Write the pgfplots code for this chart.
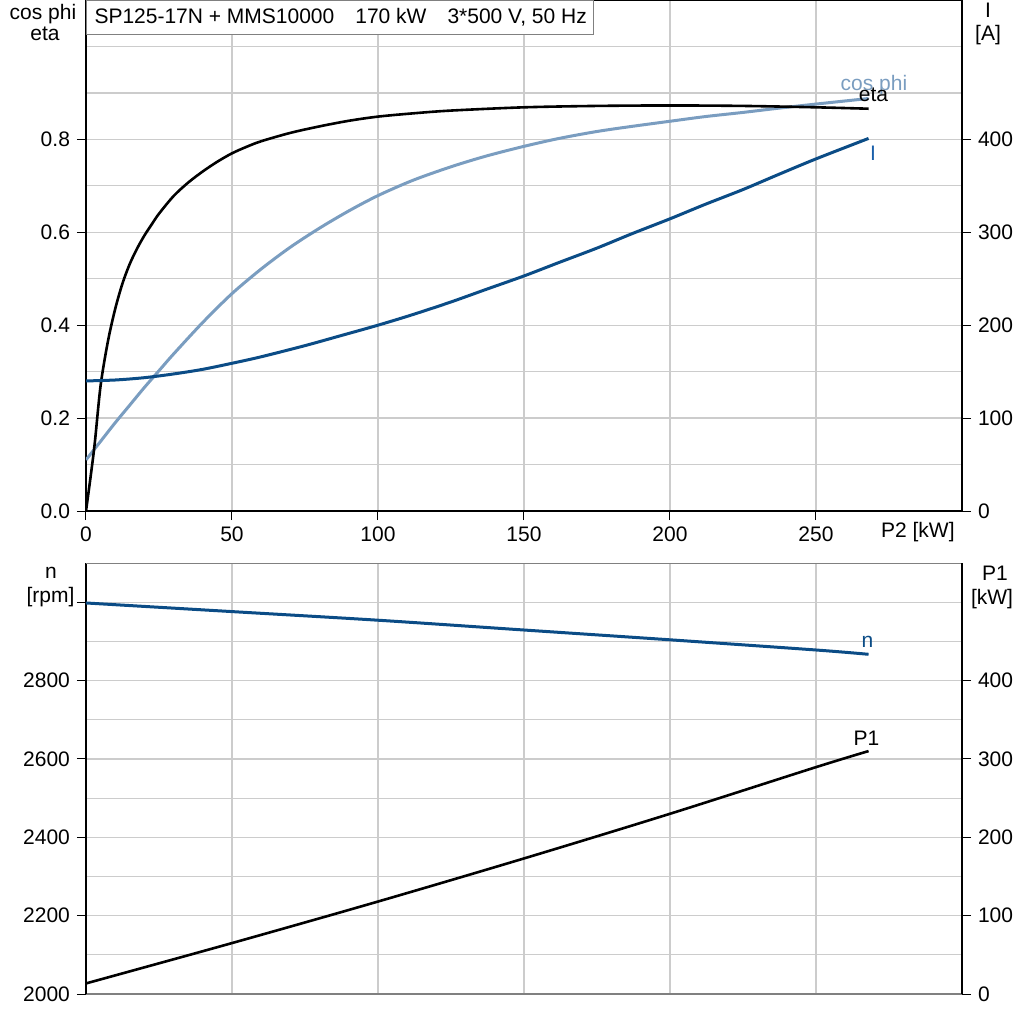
\documentclass[border=0pt]{standalone}
\usepackage{fontspec}
\setmainfont{Liberation Sans}
\usepackage{pgfplots}
\pgfplotsset{compat=1.18}
\definecolor{cosc}{HTML}{7A9DC0}
\definecolor{curI}{HTML}{0B4C86}
\definecolor{gridc}{HTML}{CCCCCC}
\definecolor{labI}{HTML}{1A5FAA}
\newcommand\lf{\fontsize{10.5}{12}\selectfont}
\pgfplotsset{
 base/.style={
  scale only axis, width=438pt, xmin=0, xmax=300,
  anchor=north west,
  tick align=outside,
  major tick length=4.5pt,
  minor tick length=0pt,
  every tick/.style={black, line width=0.5pt},
  tick label style={font=\lf, black},
  /pgf/number format/assume math mode=true,
  axis line style={line width=0.8pt, black},
  grid style={gridc, line width=0.6pt},
 }
}
\begin{document}
\begin{tikzpicture}
\path[use as bounding box] (0pt,0pt) rectangle (512pt,-512pt);
% ---------- top panel, left axis ----------
\begin{axis}[base, at={(43pt,0pt)}, height=255.5pt, ymin=0, ymax=1.1,
  tick pos=left,
  xtick={0,50,100,150,200,250},
  ytick={0,0.2,0.4,0.6,0.8},
  minor ytick={0.1,0.3,0.5,0.7,0.9,1.0},
  xmajorgrids, ymajorgrids, yminorgrids,
  yticklabel style={/pgf/number format/.cd, fixed, fixed zerofill, precision=1},
]
\addplot[cosc, line width=1.5pt, smooth] table {
0 0.11
5 0.15
10 0.19
15 0.228
20 0.266
25 0.302
30 0.338
40 0.406
50 0.468
60 0.521
70 0.568
80 0.609
90 0.646
100 0.679
112 0.712
125 0.741
137 0.764
150 0.785
162 0.802
175 0.817
187 0.828
200 0.839
212 0.849
225 0.858
237 0.867
250 0.876
268 0.888
};
\addplot[black, line width=1.3pt, smooth] table {
0 0
1.5 0.07
3 0.146
5 0.27
7.5 0.365
10 0.435
12.5 0.49
15 0.532
17.5 0.565
20 0.593
22.5 0.617
25 0.64
30 0.678
35 0.707
40 0.731
45 0.752
50 0.770
55 0.784
60 0.796
70 0.814
80 0.828
90 0.84
100 0.849
112 0.856
125 0.862
150 0.869
175 0.872
200 0.873
225 0.872
250 0.869
268 0.866
};
\end{axis}
% ---------- top panel, right axis ----------
\begin{axis}[base, at={(43pt,0pt)}, height=255.5pt, ymin=0, ymax=550,
  axis y line*=right, axis x line=none,
  ytick={0,100,200,300,400},
]
\addplot[curI, line width=1.5pt, smooth] table {
0 140
10 141
20 143.5
30 147.5
40 152.5
50 159
60 166
75 178
87 188.5
100 200
112 211.5
125 225
137 238.5
150 253
162 267.5
175 283
187 298.5
200 314.5
212 330
225 346
237 362
250 379
268 401
};
\end{axis}
% ---------- bottom panel, left axis ----------
\begin{axis}[base, at={(43pt,-281.5pt)}, height=215.5pt, ymin=2000, ymax=3100,
  axis y line*=left, axis x line*=bottom,
  x axis line style={color=gray},
  xtick={50,100,150,200,250}, xticklabels={},
  xtick style={draw=none},
  ytick={2000,2200,2400,2600,2800,3000},
  yticklabels={2000,2200,2400,2600,2800,{}},
  minor ytick={2100,2300,2500,2700,2900},
  xmajorgrids, ymajorgrids, yminorgrids,
]
\draw[gray, line width=0.8pt] (rel axis cs:0,1) -- (rel axis cs:1,1);
\addplot[curI, line width=1.5pt, smooth] table {
0 2998
50 2976
100 2954
150 2929
200 2904
250 2878
268 2867
};
\end{axis}
% ---------- bottom panel, right axis ----------
\begin{axis}[base, at={(43pt,-281.5pt)}, height=215.5pt, ymin=0, ymax=550,
  axis y line*=right, axis x line=none,
  ytick={0,100,200,300,400},
]
\addplot[black, line width=1.3pt, smooth] table {
0 13.5
50 65
100 118
150 173
200 230
250 289.5
268 310
};
\end{axis}
% ---------- texts ----------
\node[draw=gray, fill=white, anchor=north west, inner xsep=4pt, inner ysep=0pt,
  minimum height=17pt, font=\lf, line width=0.5pt]
  at (43pt,0pt) {\makebox[245.5pt][l]{SP125-17N + MMS10000\hspace{10.5pt}170 kW\hspace{10.5pt}3*500 V, 50 Hz}};
\node[font=\lf, anchor=base, inner sep=0pt] at (21.5pt,-9.5pt) {cos phi};
\node[font=\lf, anchor=base, inner sep=0pt] at (22.5pt,-20pt) {eta};
\node[font=\lf, anchor=base, inner sep=0pt] at (494pt,-8.5pt) {I};
\node[font=\lf, anchor=base, inner sep=0pt] at (494pt,-20pt) {[A]};
\node[font=\lf, anchor=base east, inner sep=0pt] at (477.5pt,-268.5pt) {P2 [kW]};
\node[font=\lf, anchor=base, inner sep=0pt] at (25.5pt,-289pt) {n};
\node[font=\lf, anchor=base, inner sep=0pt] at (25.25pt,-301pt) {[rpm]};
\node[font=\lf, anchor=base, inner sep=0pt] at (497.5pt,-290pt) {P1};
\node[font=\lf, anchor=base, inner sep=0pt] at (496pt,-302pt) {[kW]};
\node[font=\lf, anchor=base, inner sep=0pt, text=cosc] at (437pt,-45pt) {cos phi};
\node[font=\lf, anchor=base, inner sep=0pt] at (436.75pt,-50.8pt) {eta};
\node[font=\lf, anchor=base, inner sep=0pt, text=labI] at (436.5pt,-80pt) {I};
\node[font=\lf, anchor=base, inner sep=0pt, text=curI] at (433.75pt,-323.5pt) {n};
\node[font=\lf, anchor=base, inner sep=0pt] at (433.25pt,-372.5pt) {P1};
\end{tikzpicture}
\end{document}
